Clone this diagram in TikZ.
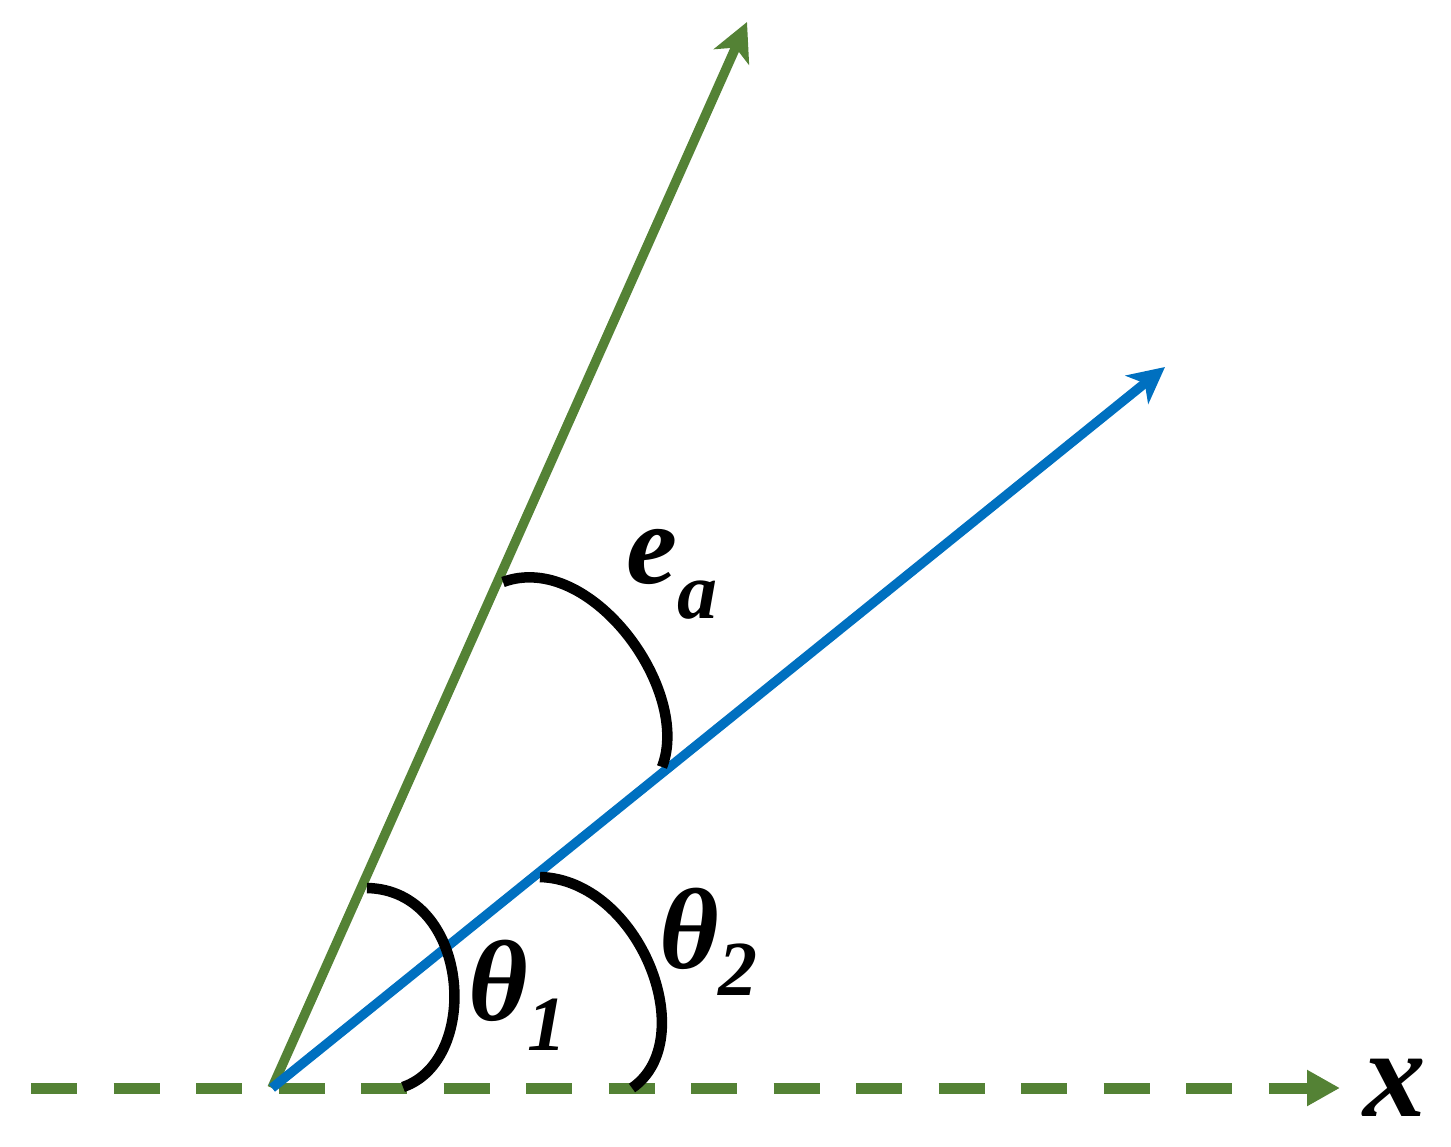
\documentclass[tikz,border=0pt]{standalone}
\usepackage{fontspec}
\setmainfont{Liberation Serif}
\usetikzlibrary{arrows.meta}
\definecolor{vgreen}{RGB}{84,130,53}
\definecolor{vblue}{RGB}{0,112,192}
\begin{document}
\begin{tikzpicture}[x=1pt,y=-1pt,
  greenvec/.style={draw=vgreen,line width=9.5pt,-{Stealth[length=38pt,width=38pt,inset=10pt]}},
  bluevec/.style={draw=vblue,line width=9.5pt,-{Stealth[length=36pt,width=36pt,inset=10pt]}},
  axisline/.style={draw=vgreen,line width=11pt,dash pattern=on 46pt off 36.5pt,-{Triangle[length=33pt,width=34pt]}},
  anglearc/.style={draw=black,line width=10.5pt},
  lbl/.style={inner sep=0pt,anchor=base west,font=\fontsize{115}{120}\selectfont\bfseries\itshape}]
\useasboundingbox (0,0) rectangle (1451,1146);
\coordinate (O) at (272,1088);
\coordinate (AxS) at (31,1088);
\coordinate (AxE) at (1340,1088);
\coordinate (G) at (747,22);
\coordinate (B) at (1165,367);
% axis
\draw[axisline] (AxS) -- (AxE);
% vectors
\draw[greenvec] (O) -- (G);
\draw[bluevec] (O) -- (B);
% angle arcs
\coordinate (A1s) at (367,888);
\coordinate (A1e) at (403,1087);
\coordinate (A2s) at (540,877);
\coordinate (A2e) at (632,1088);
\coordinate (A3s) at (503,582);
\coordinate (A3e) at (662,767);
\draw[anglearc] (A1s) .. controls (470,890) and (482,1060) .. (A1e);
\draw[anglearc] (A2s) .. controls (640,880) and (702,1040) .. (A2e);
\draw[anglearc] (A3s) .. controls (590,550) and (692,690) .. (A3e);
% labels
\node[lbl] (th1) at (468,1020) {θ\raisebox{-30pt}{\fontsize{78}{80}\selectfont 1}};
\node[lbl] (th2) at (659,968) {θ\raisebox{-27pt}{\fontsize{78}{80}\selectfont 2}};
\node[lbl] (ea) at (626,583) {e\raisebox{-35pt}{\fontsize{80}{80}\selectfont a}};
\node[lbl,font=\fontsize{125}{130}\selectfont\bfseries\itshape] (xl) at (1363,1116) {x};
\end{tikzpicture}
\end{document}
